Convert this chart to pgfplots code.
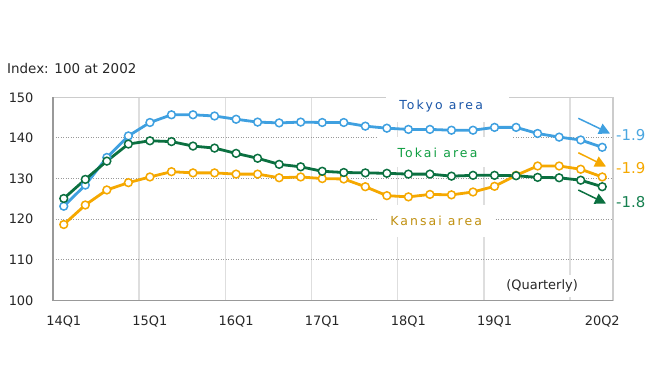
\documentclass[border=0pt]{standalone}
\usepackage{pgfplots}
\pgfplotsset{compat=1.18}
\usetikzlibrary{arrows.meta}
\usepackage{fontspec}
\setmainfont{DejaVu Sans}
\newfontfamily\spaced[LetterSpace=17]{DejaVu Sans}
\definecolor{tokyo}{HTML}{3FA0E0}
\definecolor{tokai}{HTML}{0B7040}
\definecolor{kansai}{HTML}{F5A800}
\definecolor{tokyolab}{HTML}{1A56A8}
\definecolor{tokailab}{HTML}{109E42}
\definecolor{kansailab}{HTML}{C09010}
\definecolor{rtokyo}{HTML}{4AA6E0}
\definecolor{rtokai}{HTML}{168050}
\begin{document}
\begin{tikzpicture}[x=1bp,y=1bp]
\path[use as bounding box] (0,0) rectangle (652,387);
\begin{axis}[
  at={(53bp,86.5bp)}, anchor=south west,
  width=560bp, height=203.2bp, scale only axis,
  xmin=-0.5, xmax=25.5, ymin=100, ymax=150,
  axis line style={draw=none},
  xtick={0,4,8,12,16,20,25},
  xticklabels={14Q1,15Q1,16Q1,17Q1,18Q1,19Q1,20Q2},
  minor xtick={3.5,7.5,11.5,15.5,19.5,23.5},
  xminorgrids=true,
  minor x grid style={color=black!13, line width=1.6bp},
  ytick={100,110,...,150},
  ymajorgrids=true,
  major y grid style={color=black!40, line width=0.9bp, dash pattern=on 0.9bp off 1.6bp},
  major tick length=0, minor tick length=0,
  /pgf/number format/assume math mode=true,
  tick label style={font=\fontsize{13}{15}\selectfont, text=black!85},
  yticklabel style={anchor=east, xshift=-16bp},
  xticklabel style={anchor=north, yshift=-12bp},
  clip=false,
  every axis plot/.append style={line width=2.8bp, mark=*, mark size=3.9bp,
     mark options={fill=white, line width=1.5bp, solid}},
]
\draw[color=black!20, line width=1.3bp] (rel axis cs:0,1) -- (rel axis cs:1,1) -- (rel axis cs:1,0);
\draw[color=black!40, line width=1.6bp] (rel axis cs:0,1) -- (rel axis cs:0,0) -- (rel axis cs:1,0);
% label backgrounds
\fill[white] (axis cs:14.95,151.8) rectangle (axis cs:20.68,144.0);
\fill[white] (axis cs:14.52,140.23) rectangle (axis cs:20.82,132.8);
\fill[white] (axis cs:14.57,123.5) rectangle (axis cs:19.99,115.6);
\node[text=tokyolab, font=\spaced\fontsize{12.5}{14}\selectfont] at (axis cs:17.52,147.93) {Tokyo area};
\node[text=tokailab, font=\spaced\fontsize{12.5}{14}\selectfont] at (axis cs:17.35,136.3) {Tokai area};
\node[text=kansailab, font=\spaced\fontsize{12.5}{14}\selectfont] at (axis cs:17.29,119.64) {Kansai area};
\node[fill=white, inner xsep=8bp, inner ysep=5bp, text=black!85, font=\fontsize{13}{15}\selectfont] at (axis cs:22.21,103.57) {(Quarterly)};
\addplot[color=kansai] coordinates {
(0,118.7)(1,123.5)(2,127.2)(3,129.0)(4,130.4)(5,131.7)(6,131.4)(7,131.4)(8,131.1)(9,131.1)
(10,130.2)(11,130.4)(12,130.0)(13,129.9)(14,128.0)(15,125.8)(16,125.5)(17,126.1)(18,126.0)(19,126.7)
(20,128.1)(21,130.8)(22,133.1)(23,133.1)(24,132.3)(25,130.4)};
\addplot[color=tokyo] coordinates {
(0,123.2)(1,128.4)(2,135.2)(3,140.5)(4,143.8)(5,145.7)(6,145.7)(7,145.4)(8,144.6)(9,143.9)
(10,143.7)(11,143.9)(12,143.8)(13,143.8)(14,142.9)(15,142.4)(16,142.1)(17,142.1)(18,141.9)(19,141.9)
(20,142.6)(21,142.6)(22,141.1)(23,140.2)(24,139.5)(25,137.7)};
\addplot[color=tokai] coordinates {
(0,125.1)(1,129.8)(2,134.3)(3,138.5)(4,139.3)(5,139.1)(6,138.0)(7,137.5)(8,136.2)(9,135.0)
(10,133.5)(11,132.9)(12,131.8)(13,131.5)(14,131.4)(15,131.3)(16,131.1)(17,131.1)(18,130.6)(19,130.8)
(20,130.8)(21,130.7)(22,130.3)(23,130.2)(24,129.6)(25,128.0)};
\end{axis}
\node[anchor=west, inner sep=0pt, text=black!85, font=\fontsize{13.5}{15}\selectfont] at (7,319) {Index: 100 at 2002};
\draw[-{Triangle[length=11bp,width=11bp]}, line width=1.5bp, color=tokyo] (578.3,268.7) -- (610,253.5);
\draw[-{Triangle[length=11bp,width=11bp]}, line width=1.5bp, color=kansai] (578.3,234.3) -- (606,220.5);
\draw[-{Triangle[length=11bp,width=11bp]}, line width=1.5bp, color=tokai] (578.3,197) -- (606,183.5);
\node[anchor=west, inner sep=0pt, text=rtokyo, font=\fontsize{15}{17}\selectfont] at (616,252) {-1.9};
\node[anchor=west, inner sep=0pt, text=kansai, font=\fontsize{15}{17}\selectfont] at (616,218.7) {-1.9};
\node[anchor=west, inner sep=0pt, text=rtokai, font=\fontsize{15}{17}\selectfont] at (616,185.3) {-1.8};
\end{tikzpicture}
\end{document}
